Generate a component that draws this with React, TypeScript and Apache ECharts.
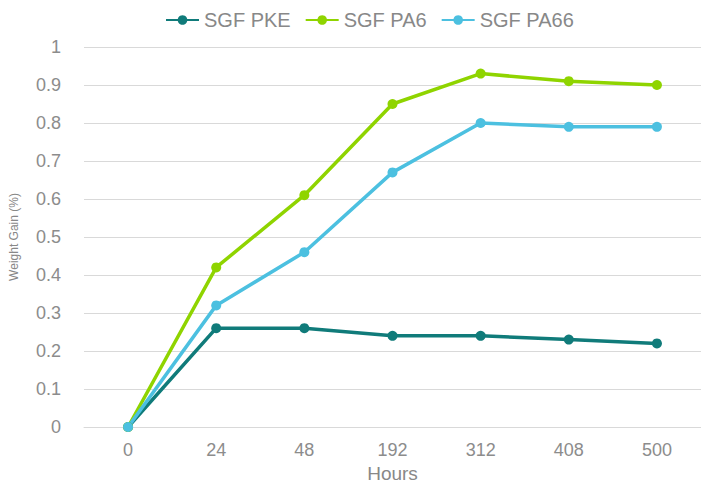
import React, { useEffect, useRef } from "react";
import * as echarts from "echarts";

const categories = ["0", "24", "48", "192", "312", "408", "500"];
const pke = [0, 0.26, 0.26, 0.24, 0.24, 0.23, 0.22];
const pa6 = [0, 0.42, 0.61, 0.85, 0.93, 0.91, 0.9];
const pa66 = [0, 0.32, 0.46, 0.67, 0.8, 0.79, 0.79];
const seriesNames = ["SGF PKE", "SGF PA6", "SGF PA66"];
const colors = ["#107b7a", "#8fd400", "#4cc0e0"];

export default function App() {
  const ref = useRef<HTMLDivElement>(null);
  useEffect(() => {
    const chart = echarts.init(ref.current!, null, { renderer: "svg" });
    const mk = (name: string, data: number[], color: string) => ({
      name,
      type: "line",
      data,
      symbol: "circle",
      symbolSize: 10,
      lineStyle: { width: 3.5, color },
      itemStyle: { color },
    });
    chart.setOption({
      animation: false,
      textStyle: { fontFamily: "Liberation Sans, Arial, sans-serif" },
      legend: {
        top: 5,
        left: 160,
        itemWidth: 33,
        itemHeight: 12,
        itemGap: 14,
        textStyle: { fontSize: 20, color: "#888888" },
        data: seriesNames,
      },
      grid: { left: 81, right: -4, top: 47, bottom: 64 },
      xAxis: {
        type: "category",
        data: categories,
        name: "Hours",
        nameLocation: "middle",
        nameGap: 36,
        nameTextStyle: { fontSize: 19, color: "#888888" },
        axisLine: { lineStyle: { color: "#d9d9d9" } },
        axisTick: { show: false },
        axisLabel: { fontSize: 18, color: "#8c8c8c", margin: 14 },
      },
      yAxis: {
        type: "value",
        min: 0,
        max: 1,
        interval: 0.1,
        name: "Weight Gain (%)",
        nameLocation: "middle",
        nameGap: 64,
        nameTextStyle: { fontSize: 12, color: "#888888" },
        axisLine: { show: false },
        axisTick: { show: false },
        splitLine: { lineStyle: { color: "#d9d9d9", width: 1 } },
        axisLabel: { fontSize: 18, color: "#8c8c8c", margin: 23 },
      },
      series: [
        mk(seriesNames[0], pke, colors[0]),
        mk(seriesNames[1], pa6, colors[1]),
        mk(seriesNames[2], pa66, colors[2]),
      ],
    });
    return () => chart.dispose();
  }, []);
  return <div ref={ref} style={{ width: 701, height: 491, position: "absolute", left: 0, top: 0 }} />;
}
